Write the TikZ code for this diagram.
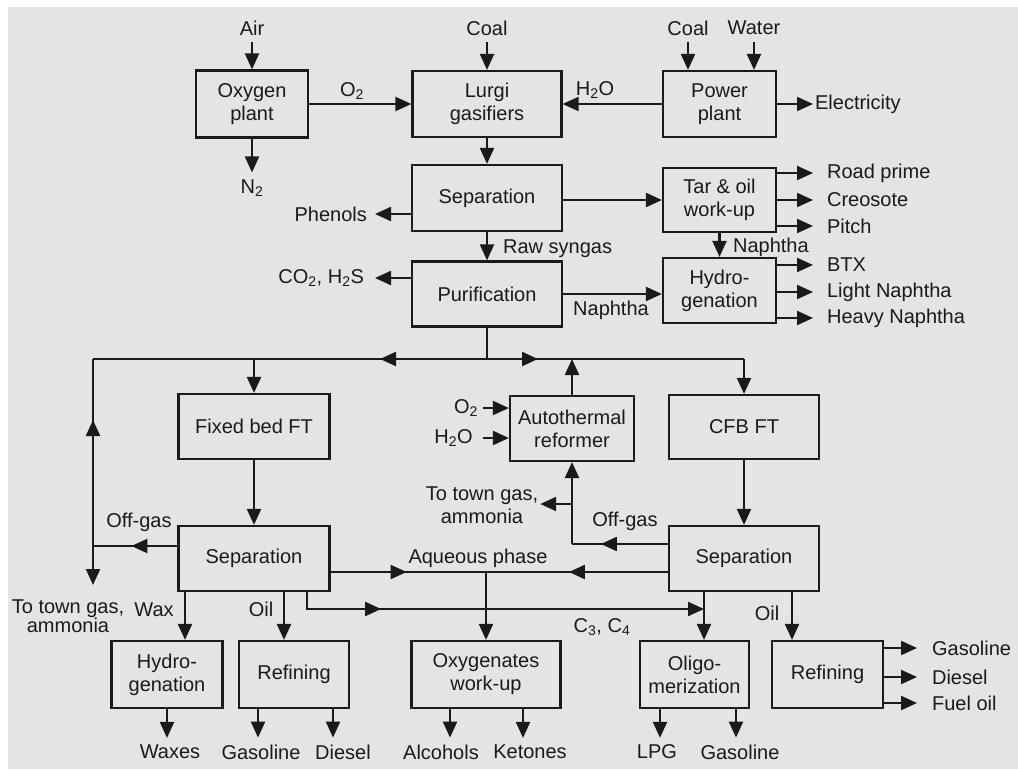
\documentclass[tikz,border=0pt]{standalone}
\usepackage{fontspec}
\setmainfont{Liberation Sans}
\usetikzlibrary{arrows.meta,decorations.markings}
\definecolor{bg}{HTML}{E4E4E4}
\definecolor{ink}{HTML}{1A1A1A}

\begin{document}
\begin{tikzpicture}[x=1pt,y=-1pt,
  line width=2.2pt, draw=ink,
  every node/.style={font=\fontsize{20}{23}\selectfont, text=ink},
  box/.style={draw=ink, line width=2.2pt, align=center, inner sep=2pt},
  lbl/.style={inner xsep=4pt, inner ysep=6pt, align=center},
  outlbl/.style={lbl, anchor=west, inner xsep=13pt},
  arr/.style={-{Triangle[length=16pt,width=14pt]}},
  tipat/.style={postaction={decorate},
    decoration={markings, mark=at position #1 with {\arrow{Triangle[length=16pt,width=14pt]}}}},
]
% canvas
\useasboundingbox (0,0) rectangle (1018,769);
\fill[white] (0,0) rectangle (1018,769);
\fill[bg] (8,7) rectangle (1018,769);

% ---------- process units ----------
\node[box, minimum width=112pt, minimum height=67pt] (oxy)   at (252,104)   {Oxygen\\plant};
\node[box, minimum width=149pt, minimum height=66pt] (lurgi) at (487,104)   {Lurgi\\gasifiers};
\node[box, minimum width=113pt, minimum height=66pt] (power) at (719.5,104) {Power\\plant};
\node[box, minimum width=150pt, minimum height=66pt] (sep1)  at (487,198)   {Separation};
\node[box, minimum width=113pt, minimum height=64pt] (tar)   at (719.5,200) {Tar \& oil\\work-up};
\node[box, minimum width=150pt, minimum height=65pt] (pur)   at (487,294)   {Purification};
\node[box, minimum width=113pt, minimum height=65pt] (hyd1)  at (719.5,290.5) {Hydro-\\genation};
\node[box, minimum width=151pt, minimum height=65pt] (fbft)  at (254,426.5) {Fixed bed FT};
\node[box, minimum width=124pt, minimum height=65pt] (atr)   at (572,428.5) {Autothermal\\reformer};
\node[box, minimum width=150pt, minimum height=64pt] (cfbft) at (744,427)   {CFB FT};
\node[box, minimum width=151pt, minimum height=65pt] (fbsep) at (254,558.5) {Separation};
\node[box, minimum width=150pt, minimum height=65pt] (cfbsep) at (744,558.5) {Separation};
\node[box, minimum width=111pt, minimum height=67pt] (hyd2)  at (167,674.5) {Hydro-\\genation};
\node[box, minimum width=110pt, minimum height=67pt] (ref1)  at (294,674.5) {Refining};
\node[box, minimum width=149pt, minimum height=67pt] (oxyg)  at (486,674.5) {Oxygenates\\work-up};
\node[box, minimum width=109pt, minimum height=67pt] (olig)  at (694.5,674.5) {Oligo-\\merization};
\node[box, minimum width=111pt, minimum height=67pt] (ref2)  at (827.5,674.5) {Refining};

% ---------- stream labels ----------
\node[lbl] (air)   at (252,28) {Air};
\node[lbl] (coal1) at (487,28) {Coal};
\node[lbl] (coal2) at (688,28) {Coal};
\node[lbl] (water) at (754,28) {Water};
\node[lbl] (o2a)   at (352,91) {O\textsubscript{2}};
\node[lbl] (h2oa)  at (595,90) {H\textsubscript{2}O};
\node[lbl] (n2)    at (252,188) {N\textsubscript{2}};
\node[lbl, anchor=west, inner xsep=1pt] (elec) at (813,104) {Electricity};
\node[lbl, anchor=east, inner xsep=7pt] (phen) at (375,214) {Phenols};
\node[lbl, anchor=west, inner xsep=2pt] (raw) at (500,249) {Raw syngas};
\node[lbl, anchor=east, inner xsep=10pt] (co2) at (375,278) {CO\textsubscript{2}, H\textsubscript{2}S};
\node[lbl] (naph1) at (611,310) {Naphtha};
\node[lbl, anchor=west, inner xsep=2pt] (naph2) at (730,247) {Naphtha};
\node[outlbl] (road)  at (813,173) {Road prime};
\node[outlbl] (creo)  at (813,200) {Creosote};
\node[outlbl] (pitch) at (813,226) {Pitch};
\node[outlbl] (btx)   at (813,265) {BTX};
\node[outlbl] (lnaph) at (813,292) {Light Naphtha};
\node[outlbl] (hnaph) at (813,318) {Heavy Naphtha};

\node[lbl] (o2b) at (466,408) {O\textsubscript{2}};
\node[lbl, inner xsep=9pt] (h2ob) at (453.5,438) {H\textsubscript{2}O};
\node[lbl] (offg1) at (139,522) {Off-gas};
\node[lbl] (offg2) at (625,521) {Off-gas};
\node[lbl, inner xsep=1pt] (tg2) at (482,505) {To town gas,\\ammonia};
\node[lbl, font=\fontsize{20}{19}\selectfont] (tg1) at (68,616) {To town gas,\\ammonia};
\node[lbl] (aq)   at (478,558) {Aqueous phase};
\node[lbl] (wax)  at (154,610) {Wax};
\node[lbl] (oil1) at (261,609) {Oil};
\node[lbl] (oil2) at (767,613) {Oil};
\node[lbl] (c34)  at (602,627) {C\textsubscript{3}, C\textsubscript{4}};

\node[lbl] (waxes) at (170,752) {Waxes};
\node[lbl] (gas1)  at (261,752) {Gasoline};
\node[lbl] (dies1) at (343,752) {Diesel};
\node[lbl] (alc)   at (441,752) {Alcohols};
\node[lbl] (ket)   at (530,752) {Ketones};
\node[lbl] (lpg)   at (657,752) {LPG};
\node[lbl] (gas2)  at (740,752) {Gasoline};
\node[outlbl, inner xsep=14pt] (gas3)  at (917,648) {Gasoline};
\node[outlbl, inner xsep=14pt] (dies3) at (917,677) {Diesel};
\node[outlbl, inner xsep=14pt] (fuel)  at (917,703) {Fuel oil};

% ---------- junction points ----------
\coordinate (j0) at (487,359);
\coordinate (jl) at (93,359);
\coordinate (jr) at (744,359);
\coordinate (jf) at (254,359);
\coordinate (jo) at (93,546);
\coordinate (tg1end) at (93,585);
\coordinate (jc) at (572,544);
\coordinate (jt) at (572,504);
\coordinate (ja) at (486,572);
\coordinate (jk1) at (307,609);
\coordinate (jk2) at (704,609);

% ---------- gasification section ----------
\draw[arr] (air) -- (oxy);
\draw[arr] (coal1) -- (lurgi);
\draw[arr] (coal2) -- (coal2 |- power.north);
\draw[arr] (water) -- (water |- power.north);
\draw[arr] (oxy) -- (lurgi);
\draw[arr] (power) -- (lurgi);
\draw[arr] (power.east |- elec) -- (elec);
\draw[arr] (oxy) -- (n2);
\draw[arr] (lurgi) -- (sep1);
\draw[arr] (sep1.west |- phen) -- (phen);
\draw[arr] (sep1.east |- tar) -- (tar);
\draw[arr] (sep1) -- (pur);
\draw[arr] (pur.west |- co2) -- (co2);
\draw[arr] (pur) -- (pur -| hyd1.west);
\draw[arr] (tar) -- (hyd1);
\foreach \p in {road,creo,pitch} \draw[arr] (tar.east |- \p) -- (\p);
\foreach \p in {btx,lnaph,hnaph} \draw[arr] (hyd1.east |- \p) -- (\p);

% ---------- syngas distribution ----------
\draw (pur) -- (j0);
\draw[tipat=107pt] (j0) -- (jl);
\draw[tipat=51pt] (j0) -- (jr);
\draw[arr] (jr) -- (cfbft);
\draw[arr] (jf) -- (fbft);
\draw[arr] (atr) -- (atr |- j0);
\draw[arr] (o2b) -- (o2b -| atr.west);
\draw[arr] (h2ob) -- (h2ob -| atr.west);

% ---------- Fischer-Tropsch trains ----------
\draw[arr] (fbft) -- (fbsep);
\draw[arr] (cfbft) -- (cfbsep);
\draw[tipat=46pt] (fbsep.west |- jo) -- (jo);
\draw[tipat=126pt] (jo) -- (jl);
\draw[arr] (jo) -- (tg1end);
\draw[tipat=67pt] (cfbsep.west |- jc) -- (jc);
\draw[arr] (jc) -- (atr);
\draw[arr] (jt) -- (tg2.east |- jt);
\draw[tipat=76pt] (fbsep.east |- ja) -- (ja);
\draw[tipat=99pt] (cfbsep.west |- ja) -- (ja);
\draw[arr] (ja) -- (oxyg);

% ---------- product work-up ----------
\draw[arr] (fbsep.south -| 185,0) -- (hyd2.north -| 185,0);
\draw[arr] (fbsep.south -| 284,0) -- (ref1.north -| 284,0);
\draw[arr, tipat=91pt] (fbsep.south -| jk1) -- (jk1) -- (jk2);
\draw[arr] (cfbsep.south -| jk2) -- (olig.north -| jk2);
\draw[arr] (cfbsep.south -| 792,0) -- (ref2.north -| 792,0);

\draw[arr] (hyd2) -- (waxes.north -| hyd2);
\draw[arr] (ref1.south -| 258,0) -- (gas1.north -| 258,0);
\draw[arr] (ref1.south -| 333,0) -- (dies1.north -| 333,0);
\draw[arr] (oxyg.south -| 450,0) -- (alc.north -| 450,0);
\draw[arr] (oxyg.south -| 523,0) -- (ket.north -| 523,0);
\draw[arr] (olig.south -| 660,0) -- (lpg.north -| 660,0);
\draw[arr] (olig.south -| 736,0) -- (gas2.north -| 736,0);
\foreach \p in {gas3,dies3,fuel} \draw[arr] (ref2.east |- \p) -- (\p);
\end{tikzpicture}
\end{document}
